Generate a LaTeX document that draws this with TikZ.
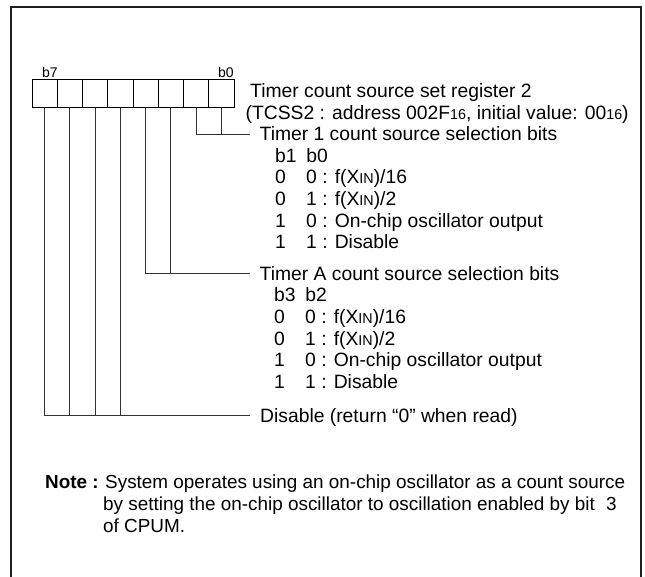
\documentclass[tikz,border=0pt]{standalone}
\usepackage{fontspec}
\setmainfont{Liberation Sans}
\begin{document}
\begin{tikzpicture}[x=1pt,y=-1pt,
  txt/.style={anchor=base west,inner sep=0pt,font=\fontsize{19.3}{22}\selectfont},
  notetxt/.style={anchor=base west,inner sep=0pt,font=\fontsize{18.9}{22}\selectfont},
  bitlbl/.style={anchor=base west,inner sep=0pt,font=\fontsize{14}{16}\selectfont},
  cell/.style={draw=black,line width=0.9pt,minimum width=25.25pt,minimum height=28.2pt,inner sep=0pt,outer sep=0pt},
  leader/.style={draw=black!80,line width=0.9pt},
  frame/.style={draw=black!88,line width=2.2pt}]
\newcommand{\sm}[1]{{\fontsize{14.3}{16}\selectfont #1}}
\useasboundingbox (0,0) rectangle (645,577);
\draw[frame] (11,578) -- (11,7) -- (641,7) -- (641,578);
% register cells b7..b0
\foreach \i/\n in {0/7,1/6,2/5,3/4,4/3,5/2,6/1,7/0}{
  \node[cell] (c\n) at ({32+12.625+25.25*\i},93.6) {};
}
\node[bitlbl] (lb7) at (42,78) {b7};
\node[bitlbl] (lb0) at (218,78) {b0};
% titles
\node[txt] (title) at (250,97.5) {Timer count source set register 2};
\node[txt] (addr) at (245.5,119.3) {(TCSS2 : address 002F\sm{16}, initial value: 00\sm{16})};
% block 1
\coordinate (l1) at (250,134);
\node[txt] (t1) at (259.5,140.5) {Timer 1 count source selection bits};
\node[txt] (t1h) at (275,162.2) {b1\hspace{0.5em}b0};
\node[txt] (t1a) at (275,183.9) {0\hspace{1.05em}0 : f(X\sm{IN})/16};
\node[txt] (t1b) at (275,205.6) {0\hspace{1.05em}1 : f(X\sm{IN})/2};
\node[txt] (t1c) at (275,227.3) {1\hspace{1.05em}0 : On-chip oscillator output};
\node[txt] (t1d) at (275,249) {1\hspace{1.05em}1 : Disable};
% block 2
\coordinate (l2) at (250,273.3);
\node[txt] (t2) at (259.5,280) {Timer A count source selection bits};
\node[txt] (t2h) at (274,301.7) {b3\hspace{0.5em}b2};
\node[txt] (t2a) at (274,323.4) {0\hspace{1.05em}0 : f(X\sm{IN})/16};
\node[txt] (t2b) at (274,345.1) {0\hspace{1.05em}1 : f(X\sm{IN})/2};
\node[txt] (t2c) at (274,366.8) {1\hspace{1.05em}0 : On-chip oscillator output};
\node[txt] (t2d) at (274,388.5) {1\hspace{1.05em}1 : Disable};
% block 3
\coordinate (l3) at (250,415.7);
\node[txt] (t3) at (260,422) {Disable (return “0” when read)};
% note
\node[notetxt,font=\fontsize{18.9}{22}\selectfont\bfseries] (note) at (45,488) {Note :};
\node[notetxt] (n1) at (105,488) {System operates using an on-chip oscillator as a count source};
\node[notetxt] (n2) at (103,510) {by setting the on-chip oscillator to oscillation enabled by bit\hspace{0.6em}3};
\node[notetxt] (n3) at (103,532) {of CPUM.};
% leaders
\draw[leader] (c0.south) -- (c0.south |- l1);
\draw[leader] (c1.south) |- (l1);
\draw[leader] (c2.south) -- (c2.south |- l2);
\draw[leader] (c3.south) |- (l2);
\draw[leader] (c4.south) -- (c4.south |- l3);
\draw[leader] (c5.south) -- (c5.south |- l3);
\draw[leader] (c6.south) -- (c6.south |- l3);
\draw[leader] (c7.south) |- (l3);
\end{tikzpicture}
\end{document}
